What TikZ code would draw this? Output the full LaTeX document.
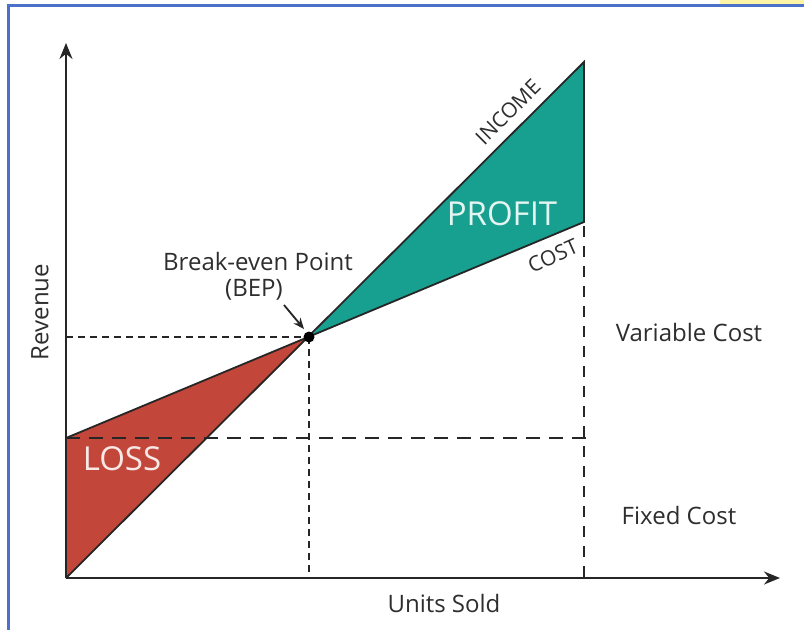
\documentclass[tikz,border=0pt]{standalone}
\usepackage{fontspec}
\setmainfont{Open Sans}
\usetikzlibrary{arrows.meta}
\definecolor{txt}{HTML}{2E2E2E}
\definecolor{teal}{HTML}{17A08F}
\definecolor{lossred}{HTML}{C2473A}
\definecolor{frameblue}{HTML}{4A72C8}
\definecolor{ylw}{HTML}{FFF3A6}
\tikzset{
  axis/.style={line width=2pt, draw=black!85, -{Stealth[length=16pt,width=13pt]}},
  edge/.style={line width=1.8pt, draw=black!85},
  finedash/.style={line width=1.5pt, draw=black!85, dash pattern=on 7pt off 5pt},
  longdash/.style={line width=1.6pt, draw=black!85, dash pattern=on 14pt off 9pt},
  vdash/.style={line width=1.6pt, draw=black!85, dash pattern=on 11pt off 9pt},
  lbl/.style={text=txt, font=\fontsize{24}{28}\selectfont, inner sep=0pt},
  small/.style={text=txt, font=\fontsize{21}{25}\selectfont, inner sep=0pt},
  big/.style={font=\fontsize{33}{38}\selectfont, inner sep=0pt},
}
\begin{document}
\begin{tikzpicture}[x=1pt,y=-1pt]
\useasboundingbox (0,0) rectangle (804,630);
\fill[white] (0,0) rectangle (804,630);
% frame
\fill[ylw] (720,0) rectangle (804,4);
\draw[frameblue, line width=2.5pt] (8.5,630) -- (8.5,5.5) -- (804,5.5);
% coordinates
\coordinate (O) at (66,578);
\coordinate (ytop) at (66,43);
\coordinate (xend) at (780,578);
\coordinate (bep) at (309,337);
\coordinate (inc) at (584,62);
\coordinate (cst) at (584,222);
\coordinate (fc) at (66,438);
\coordinate (fcend) at (592,438);
\coordinate (vtop) at (584,226);
\coordinate (vbot) at (584,578);
\coordinate (hbep) at (66,337);
\coordinate (bbot) at (309,578);
% areas
\fill[teal] (bep) -- (inc) -- (cst) -- cycle;
\fill[lossred] (fc) -- (bep) -- (O) -- cycle;
% dashed guides
\draw[finedash] (hbep) -- (bep);
\draw[finedash] (bep) -- (bbot);
\draw[longdash] (fc) -- (fcend);
\draw[vdash] (vtop) -- (vbot);
% lines
\draw[edge] (O) -- (inc) -- (cst) -- (fc) -- (O);
% axes
\draw[axis] (O) -- (ytop);
\draw[axis] (O) -- (xend);
% BEP point
\fill[black] (bep) circle (5.5pt);
% labels
\node[small, rotate=45] (income) at (508,112) {INCOME};
\node[small, rotate=24] (cost) at (553,256) {COST};
\node[big, text=white!88!teal] (profit) at (502,214) {PROFIT};
\node[big, text=white!88!lossred] (loss) at (122,459) {LOSS};
\node[lbl] (bepl1) at (258,261) {Break-even Point};
\node[lbl] (bepl2) at (254,290) {(BEP)};
\coordinate (arrs) at (284,305);
\draw[line width=1.8pt, draw=black!85, -{Stealth[length=11pt,width=9pt]}] (arrs) -- (304,329);
\node[lbl] (var) at (689,332) {Variable Cost};
\node[lbl] (fix) at (679,515) {Fixed Cost};
\node[lbl] (units) at (444,603) {Units Sold};
\node[lbl, rotate=90] (rev) at (40,312) {Revenue};
\end{tikzpicture}
\end{document}
